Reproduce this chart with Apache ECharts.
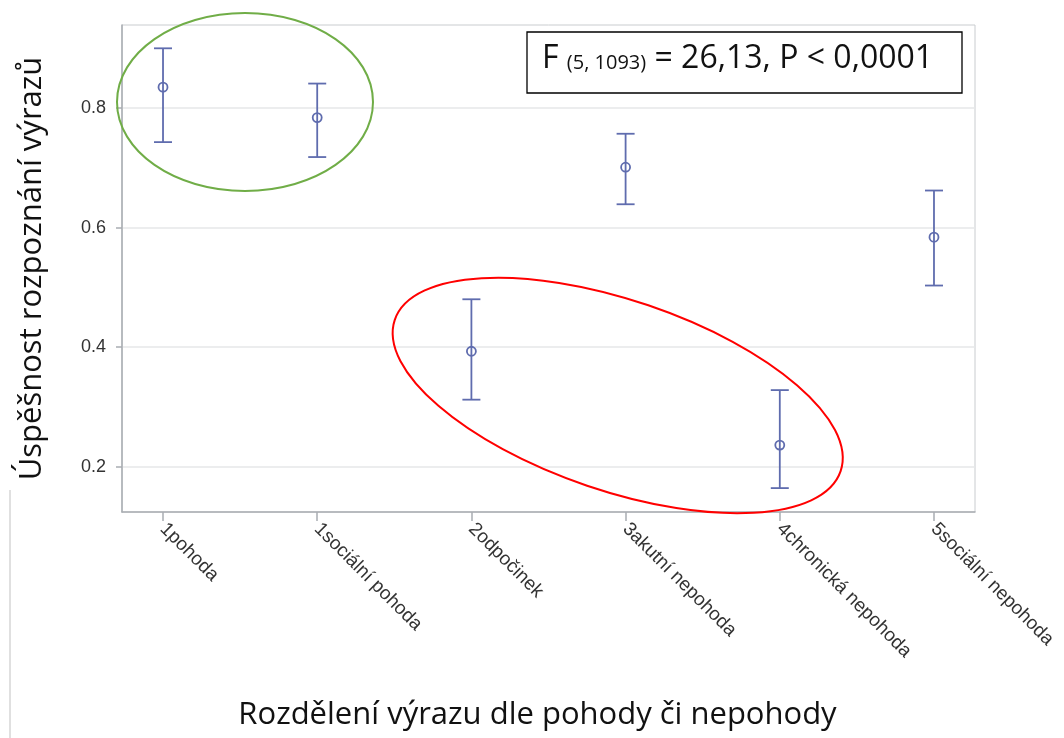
<!DOCTYPE html>
<html>
<head>
<meta charset="utf-8">
<script src="https://cdn.jsdelivr.net/npm/echarts@6/dist/echarts.min.js"></script>
<style>
html,body{margin:0;padding:0;background:#fff;}
#chart{width:1064px;height:738px;}
</style>
</head>
<body>
<div id="chart"></div>
<script>
const categories = ['1pohoda', '1sociální pohoda', '2odpočinek', '3akutní nepohoda', '4chronická nepohoda', '5sociální nepohoda'];
const means = [0.835, 0.784, 0.393, 0.701, 0.236, 0.584];
const upperCI = [0.900, 0.841, 0.480, 0.757, 0.328, 0.662];
const lowerCI = [0.743, 0.718, 0.312, 0.639, 0.164, 0.503];
const yTickValues = [0.2, 0.4, 0.6, 0.8];
const xTickValues = [0, 1, 2, 3, 4, 5];

const barColor = '#5f6cae';
const chart = echarts.init(document.getElementById('chart'), null, {renderer: 'canvas'});

const seriesData = categories.map((c, i) => [i, lowerCI[i], upperCI[i], means[i]]);

const option = {
  backgroundColor: '#ffffff',
  animation: false,
  grid: {
    left: 122, top: 25, right: 89, bottom: 226,
    show: true, borderColor: '#c9cccf', borderWidth: 1, backgroundColor: 'transparent'
  },
  xAxis: {
    type: 'value',
    min: -0.266, max: 5.266,
    name: 'Rozdělení výrazu dle pohody či nepohody',
    nameLocation: 'middle',
    nameGap: 188,
    nameTextStyle: {fontFamily: 'Open Sans', fontSize: 31, color: '#111', padding: [0, 22, 0, 0]},
    axisLine: {show: true, onZero: false, lineStyle: {color: '#a9adb2', width: 1.5}},
    axisTick: {show: true, length: 9, customValues: xTickValues, lineStyle: {color: '#a9adb2', width: 1.5}},
    axisLabel: {
      customValues: xTickValues,
      rotate: -45,
      margin: 14,
      fontFamily: 'Liberation Sans',
      fontSize: 19,
      color: '#333',
      formatter: v => categories[Math.round(v)]
    },
    splitLine: {show: false}
  },
  yAxis: {
    type: 'value',
    min: 0.124, max: 0.939,
    name: 'Úspěšnost rozpoznání výrazů',
    nameLocation: 'middle',
    nameGap: 74,
    nameTextStyle: {fontFamily: 'Open Sans', fontSize: 31, color: '#111'},
    axisLine: {show: true, onZero: false, lineStyle: {color: '#a9adb2', width: 1.5}},
    axisTick: {show: true, length: 6, customValues: yTickValues, lineStyle: {color: '#a9adb2', width: 1.5}},
    axisLabel: {
      customValues: yTickValues,
      margin: 16,
      fontFamily: 'Liberation Sans',
      fontSize: 18,
      color: '#333',
      formatter: v => v.toFixed(1)
    },
    splitLine: {show: true, lineStyle: {color: '#e6e7e8', width: 1.5}}
  },
  series: [{
    type: 'custom',
    data: seriesData,
    encode: {x: 0, y: [1, 2, 3]},
    renderItem: function (params, api) {
      const x = api.value(0);
      const lo = api.coord([x, api.value(1)]);
      const hi = api.coord([x, api.value(2)]);
      const mid = api.coord([x, api.value(3)]);
      const cap = 9;
      const st = {stroke: barColor, lineWidth: 1.8, fill: null};
      return {
        type: 'group',
        children: [
          {type: 'line', shape: {x1: hi[0], y1: hi[1], x2: lo[0], y2: lo[1]}, style: st},
          {type: 'line', shape: {x1: hi[0] - cap, y1: hi[1], x2: hi[0] + cap, y2: hi[1]}, style: st},
          {type: 'line', shape: {x1: lo[0] - cap, y1: lo[1], x2: lo[0] + cap, y2: lo[1]}, style: st},
          {type: 'circle', shape: {cx: mid[0], cy: mid[1], r: 4.5}, style: {stroke: barColor, lineWidth: 1.8, fill: 'rgba(255,255,255,0)'}}
        ]
      };
    }
  }],
  graphic: [
    {type: 'line', shape: {x1: 10, y1: 490, x2: 10, y2: 738}, style: {stroke: '#d6d6d6', lineWidth: 1.5}, z: 10},
    {type: 'ellipse', shape: {cx: 245, cy: 102, rx: 128, ry: 89}, style: {fill: null, stroke: '#70ad47', lineWidth: 2}, z: 100},
    {type: 'ellipse', x: 617.7, y: 395.5, rotation: -0.327, shape: {cx: 0, cy: 0, rx: 235.4, ry: 95.3}, style: {fill: null, stroke: '#ff0000', lineWidth: 2}, z: 100},
    {type: 'rect', shape: {x: 527, y: 32, width: 435, height: 61}, style: {fill: '#ffffff', stroke: '#000000', lineWidth: 1.3}, z: 100},
    {
      type: 'text', x: 542, y: 59, z: 101,
      style: {
        text: '{a|F }{b|(5, 1093)}{a| = 26,13, P < 0,0001}',
        verticalAlign: 'middle', align: 'left',
        rich: {
          a: {fontFamily: 'Open Sans', fontSize: 32, fill: '#111', lineHeight: 40},
          b: {fontFamily: 'Open Sans', fontSize: 20, fill: '#111', lineHeight: 40, verticalAlign: 'bottom', padding: [0, 0, 6, 0]}
        }
      }
    }
  ]
};
chart.setOption(option);
</script>
</body>
</html>
